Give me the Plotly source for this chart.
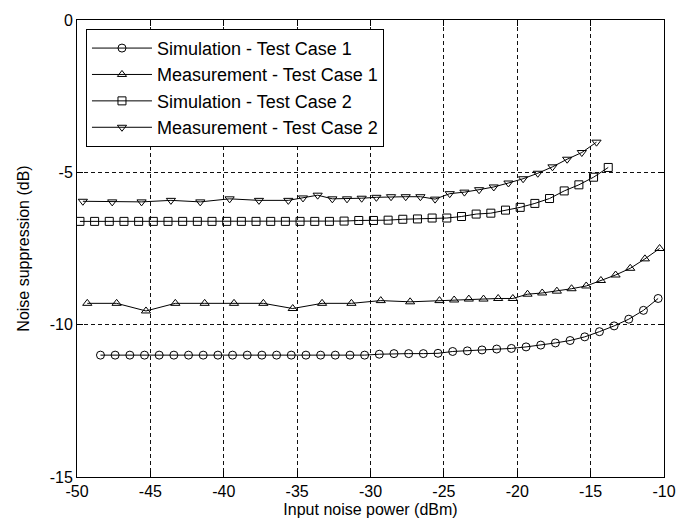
import plotly.graph_objects as go

# ---- data ----
x_sim1 = [-48.4 + i for i in range(39)]
y_sim1 = [-11.0, -11.0, -11.0, -11.0, -11.0, -11.0, -11.0, -11.0, -11.0, -11.0,
          -11.0, -11.0, -11.0, -11.0, -11.0, -11.0, -11.0, -11.0, -11.0,
          -10.97, -10.95, -10.95, -10.95, -10.94, -10.88, -10.86, -10.83, -10.8,
          -10.78, -10.73, -10.67, -10.6, -10.52, -10.4, -10.23, -10.04, -9.82,
          -9.53, -9.14]

x_meas1 = [-49.3, -47.3, -45.3, -43.3, -41.3, -39.3, -37.3, -35.3, -33.3, -31.3,
           -29.3, -27.3, -25.3, -24.3, -23.3, -22.3, -21.3, -20.3, -19.3, -18.3,
           -17.3, -16.3, -15.3, -14.3, -13.3, -12.3, -11.3, -10.3]
y_meas1 = [-9.3, -9.3, -9.55, -9.3, -9.3, -9.3, -9.3, -9.47, -9.3, -9.3,
           -9.21, -9.25, -9.21, -9.19, -9.16, -9.16, -9.14, -9.14, -9.0, -8.96,
           -8.9, -8.82, -8.73, -8.55, -8.37, -8.15, -7.84, -7.5]

x_sim2 = [-49.8 + i for i in range(37)]
y_sim2 = [-6.61, -6.61, -6.61, -6.61, -6.61, -6.61, -6.61, -6.61, -6.61, -6.61,
          -6.61, -6.61, -6.61, -6.61, -6.61, -6.61, -6.61, -6.61, -6.6, -6.58,
          -6.58, -6.57, -6.54, -6.53, -6.5, -6.5, -6.45, -6.37, -6.34, -6.24,
          -6.15, -6.02, -5.86, -5.61, -5.41, -5.16, -4.84]

x_meas2 = [-49.6, -47.6, -45.6, -43.6, -41.6, -39.6, -37.6, -35.6,
           -34.6, -33.6, -32.6, -31.6, -30.6, -29.6, -28.6, -27.6, -26.6, -25.6,
           -24.6, -23.6, -22.6, -21.6, -20.6, -19.6, -18.6, -17.6, -16.6, -15.6,
           -14.6]
y_meas2 = [-5.95, -5.97, -5.97, -5.92, -5.97, -5.87, -5.92, -5.92,
           -5.84, -5.75, -5.87, -5.87, -5.85, -5.82, -5.8, -5.8, -5.8, -5.88,
           -5.7, -5.65, -5.57, -5.48, -5.35, -5.21, -5.03, -4.82, -4.57, -4.35,
           -4.01]

names = ["Simulation - Test Case 1", "Measurement - Test Case 1",
         "Simulation - Test Case 2", "Measurement - Test Case 2"]

x_ticks = [-50, -45, -40, -35, -30, -25, -20, -15, -10]
y_ticks = [-15, -10, -5, 0]

FONT = "Liberation Sans, Arial, Helvetica, sans-serif"

fig = go.Figure()
series = [
    (x_sim1, y_sim1, "circle-open", 8),
    (x_meas1, y_meas1, "triangle-up-open", 8),
    (x_sim2, y_sim2, "square-open", 8),
    (x_meas2, y_meas2, "triangle-down-open", 8),
]
for i, (xs, ys, sym, sz) in enumerate(series):
    fig.add_trace(go.Scatter(
        x=xs, y=ys, mode="lines+markers", name=names[i],
        legendgroup=f"g{i}",
        line=dict(color="black", width=1),
        marker=dict(symbol=sym, size=sz, color="black",
                    line=dict(color="black", width=1)),
    ))

axis_common = dict(
    showline=True, linecolor="black", linewidth=1, mirror="allticks",
    ticks="inside", ticklen=6, tickcolor="black", tickwidth=1,
    showgrid=True, gridcolor="#111", gridwidth=1, griddash="4px,3px",
    zeroline=False,
    tickfont=dict(family=FONT, size=16, color="black"),
)

fig.update_xaxes(range=[-50, -10], tickvals=x_ticks,
                 ticktext=[str(v) for v in x_ticks],
                 title=dict(text="Input noise power (dBm)",
                            font=dict(family=FONT, size=16, color="black"),
                            standoff=4),
                 **axis_common)
fig.update_yaxes(range=[-15, 0], tickvals=y_ticks,
                 ticktext=[str(v) for v in y_ticks],
                 title=dict(text="Noise suppression (dB)",
                            font=dict(family=FONT, size=16, color="black"),
                            standoff=16),
                 **axis_common)

fig.update_layout(
    width=688, height=527,
    margin=dict(l=77, r=22, t=15, b=47),
    paper_bgcolor="white", plot_bgcolor="white",
    font=dict(family=FONT, color="black"),
    showlegend=True,
    legend=dict(
        x=0.0153, y=0.9806, xanchor="left", yanchor="top",
        bgcolor="white", bordercolor="black", borderwidth=1,
        font=dict(family=FONT, size=18, color="black"),
        itemwidth=60, tracegroupgap=0,
    ),
)

fig.write_html("out.html")
